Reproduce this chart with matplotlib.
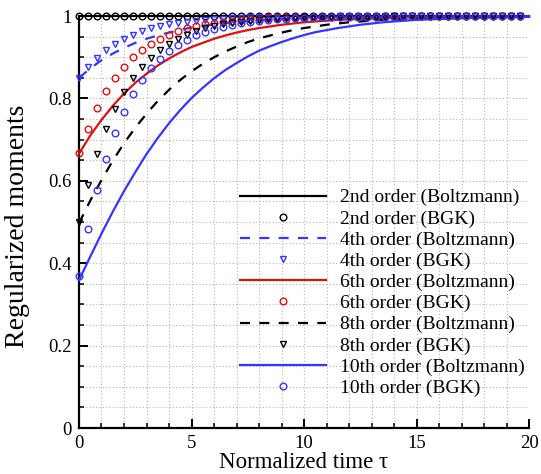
import numpy as np
import matplotlib
matplotlib.use("Agg")
import matplotlib.pyplot as plt
from matplotlib.ticker import MultipleLocator

plt.rcParams['font.family'] = ['Liberation Serif', 'DejaVu Serif']
plt.rcParams['mathtext.fontset'] = 'stix'

BLUE = "#3535ff"
RED = "#dd1010"

# time grid for Boltzmann curves and BGK samples
tau_line = np.arange(0, 20.01, 0.5)
tau_bgk = np.arange(50) * 0.4

m2_boltz = [1.0] * 41
m4_boltz = [0.850, 0.873, 0.893, 0.909, 0.923, 0.935, 0.945, 0.953, 0.960, 0.967,
            0.972, 0.976, 0.980, 0.983, 0.985, 0.988, 0.990, 0.991, 0.993, 0.994,
            0.995, 0.995, 0.996, 0.997, 0.997, 0.998, 0.998, 0.998, 0.999, 0.999,
            0.999, 0.999, 0.999, 0.999, 1.0, 1.0, 1.0, 1.0, 1.0, 1.0, 1.0]
m6_boltz = [0.666, 0.710, 0.748, 0.782, 0.812, 0.838, 0.860, 0.880, 0.897, 0.912,
            0.925, 0.935, 0.945, 0.953, 0.960, 0.966, 0.971, 0.975, 0.979, 0.982,
            0.985, 0.987, 0.989, 0.991, 0.992, 0.993, 0.994, 0.995, 0.996, 0.997,
            0.997, 0.997, 0.998, 0.998, 0.998, 0.999, 0.999, 0.999, 0.999, 0.999, 1.0]
m8_boltz = [0.497, 0.552, 0.602, 0.649, 0.691, 0.729, 0.763, 0.794, 0.821, 0.845,
            0.866, 0.884, 0.900, 0.914, 0.926, 0.937, 0.946, 0.953, 0.960, 0.966,
            0.971, 0.975, 0.979, 0.982, 0.985, 0.987, 0.989, 0.991, 0.992, 0.993,
            0.994, 0.995, 0.996, 0.997, 0.997, 0.997, 0.998, 0.998, 0.998, 0.999, 0.999]
m10_boltz = [0.359, 0.416, 0.472, 0.525, 0.575, 0.621, 0.665, 0.704, 0.740, 0.772,
             0.801, 0.826, 0.849, 0.869, 0.886, 0.902, 0.916, 0.927, 0.937, 0.946,
             0.954, 0.961, 0.966, 0.971, 0.975, 0.979, 0.982, 0.985, 0.987, 0.989,
             0.991, 0.992, 0.993, 0.994, 0.995, 0.996, 0.996, 0.997, 0.997, 0.998, 0.998]

m2_bgk = [1.0] * 50
m4_bgk = [0.850, 0.877, 0.899, 0.918, 0.933, 0.945, 0.955, 0.963, 0.970, 0.975,
          0.980, 0.983, 0.986, 0.989, 0.991, 0.993, 0.994, 0.995, 0.996, 0.997,
          0.997, 0.998, 0.998, 0.998, 0.999, 0.999, 0.999, 0.999, 0.999, 1.0] + [1.0] * 20
m6_bgk = [0.667, 0.727, 0.777, 0.817, 0.850, 0.877, 0.900, 0.918, 0.933, 0.945,
          0.955, 0.963, 0.970, 0.975, 0.980, 0.983, 0.986, 0.989, 0.991, 0.993,
          0.994, 0.995, 0.996, 0.997, 0.997, 0.998, 0.998, 0.998, 0.999, 0.999,
          0.999, 0.999, 0.999, 0.999] + [1.0] * 16
m8_bgk = [0.500, 0.591, 0.665, 0.726, 0.775, 0.816, 0.849, 0.877, 0.899, 0.917,
          0.932, 0.945, 0.955, 0.963, 0.970, 0.975, 0.980, 0.983, 0.986, 0.989,
          0.991, 0.993, 0.994, 0.995, 0.996, 0.997, 0.997, 0.998, 0.998, 0.998,
          0.999, 0.999, 0.999, 0.999, 0.999] + [1.0] * 15
m10_bgk = [0.370, 0.484, 0.578, 0.654, 0.717, 0.768, 0.810, 0.845, 0.873, 0.896,
           0.915, 0.930, 0.943, 0.953, 0.962, 0.969, 0.974, 0.979, 0.983, 0.986,
           0.988, 0.991, 0.992, 0.994, 0.995, 0.996, 0.997, 0.997, 0.998, 0.998,
           0.998, 0.999, 0.999, 0.999, 0.999, 0.999] + [1.0] * 14

orders = ["2nd", "4th", "6th", "8th", "10th"]
boltz = [m2_boltz, m4_boltz, m6_boltz, m8_boltz, m10_boltz]
bgk = [m2_bgk, m4_bgk, m6_bgk, m8_bgk, m10_bgk]
colors = ["black", BLUE, RED, "black", BLUE]
dashed = [False, True, False, True, False]
markers = ["o", "v", "o", "v", "o"]

fig = plt.figure(figsize=(5.41, 4.74), dpi=100)
ax = fig.add_axes([0.146, 0.097, 0.832, 0.869])

for i in range(5):
    ls = (0, (4.5, 4.2)) if dashed[i] else "-"
    ax.plot(tau_line, boltz[i], color=colors[i], lw=1.6, ls=ls,
            label=orders[i] + " order (Boltzmann)", clip_on=False, zorder=3)
    ax.plot(tau_bgk, bgk[i], ls="none", marker=markers[i], ms=4.8,
            mfc="none", mec=colors[i], mew=1.0,
            label=orders[i] + " order (BGK)", clip_on=False, zorder=4)

ax.set_xlim(0, 20)
ax.set_ylim(0, 1)
ax.xaxis.set_major_locator(MultipleLocator(5))
ax.xaxis.set_minor_locator(MultipleLocator(1))
ax.set_yticks([0, 0.2, 0.4, 0.6, 0.8, 1.0])
ax.set_yticklabels(["0", "0.2", "0.4", "0.6", "0.8", "1"])
ax.yaxis.set_minor_locator(MultipleLocator(0.05))

ax.grid(True, which="both", color="#b4b4b4", lw=0.8, ls=(0, (1, 2)))
ax.set_axisbelow(True)

for s in ["top", "right"]:
    ax.spines[s].set_visible(False)
for s in ["left", "bottom"]:
    ax.spines[s].set_linewidth(1.6)

ax.tick_params(which="major", direction="in", length=6.5, width=1.4,
               labelsize=13.5, pad=5)
ax.tick_params(which="minor", direction="in", length=3.5, width=1.1)

ax.set_xlabel("Normalized time τ", fontsize=16.5, labelpad=0)
ax.set_ylabel("Regularized moments", fontsize=20, labelpad=2)
ax.yaxis.set_label_coords(-0.108, 0.49)

ax.legend(loc="upper left", bbox_to_anchor=(0.358, 0.581), frameon=False,
          fontsize=14, handlelength=4.4, handletextpad=0.72,
          labelspacing=0.18, borderpad=0, borderaxespad=0, numpoints=1)

plt.savefig("out.png", dpi=100)
plt.close()
